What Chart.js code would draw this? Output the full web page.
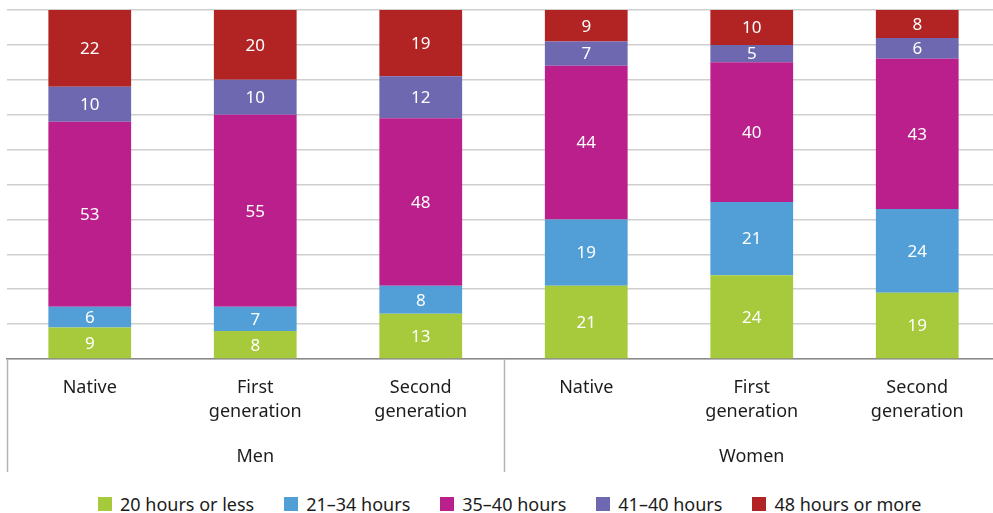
<!DOCTYPE html>
<html>
<head>
<meta charset="utf-8">
<script src="https://cdn.jsdelivr.net/npm/chart.js@4.4.0/dist/chart.umd.min.js"></script>
<style>
  html, body { margin: 0; padding: 0; background: #fff; overflow: hidden; }
  #wrap { position: absolute; left: 0; top: 0; width: 1000px; height: 480px; }
  #legend {
    position: absolute; left: 98px; top: 492px; display: flex; align-items: center;
    font-family: "Noto Sans", "Open Sans", sans-serif; font-size: 18px; color: #1c1c1c; white-space: nowrap;
  }
  #legend .item { display: flex; align-items: center; margin-right: 30px; }
  #legend .box { width: 14px; height: 14px; margin-right: 8px; }
</style>
</head>
<body>
<div id="wrap"><canvas id="mainChart"></canvas></div>
<div id="legend"></div>
<script>
// --- Data ---
const subLabels = [['Native'], ['First', 'generation'], ['Second', 'generation'],
                   ['Native'], ['First', 'generation'], ['Second', 'generation']];
const groupLabels = ['', 'Men', '', '', 'Women', ''];
const seriesNames = ['20 hours or less', '21–34 hours', '35–40 hours', '41–40 hours', '48 hours or more'];
const h20orLess = [9, 8, 13, 21, 24, 19];
const h21to34 = [6, 7, 8, 19, 21, 24];
const h35to40 = [53, 55, 48, 44, 40, 43];
const h41to40 = [10, 10, 12, 7, 5, 6];
const h48orMore = [22, 20, 19, 9, 10, 8];
const seriesColors = ['#a6ca3c', '#519fd6', '#bb1f8b', '#6e68b0', '#b22424'];

const FONT = '"Noto Sans", "Open Sans", sans-serif';

// white value labels in the middle of each segment
const segmentLabels = {
  id: 'segmentLabels',
  afterDatasetsDraw(chart) {
    const ctx = chart.ctx;
    ctx.save();
    ctx.fillStyle = '#fff';
    ctx.font = '17px ' + FONT;
    ctx.textAlign = 'center';
    ctx.textBaseline = 'middle';
    chart.data.datasets.forEach((ds, i) => {
      chart.getDatasetMeta(i).data.forEach((bar, j) => {
        const mid = (bar.y + bar.base) / 2;
        ctx.fillText(String(ds.data[j]), bar.x, mid + 1);
      });
    });
    ctx.restore();
  }
};

// vertical separators between the groups under the axis
const groupLines = {
  id: 'groupLines',
  afterDraw(chart) {
    const x = chart.scales.x;
    const ctx = chart.ctx;
    const top = chart.chartArea.bottom;
    const bottom = chart.scales.group.bottom - 8;
    const step = (x.right - x.left) / subLabels.length;
    ctx.save();
    ctx.strokeStyle = '#b4b4b4';
    ctx.lineWidth = 1.5;
    [x.left, x.left + step * 3].forEach(px => {
      ctx.beginPath();
      ctx.moveTo(Math.round(px) + 0.5, top);
      ctx.lineTo(Math.round(px) + 0.5, bottom);
      ctx.stroke();
    });
    ctx.restore();
  }
};

const datasets = [h20orLess, h21to34, h35to40, h41to40, h48orMore].map((d, i) => ({
  label: seriesNames[i],
  data: d,
  backgroundColor: seriesColors[i],
  borderWidth: 0,
  categoryPercentage: 1,
  barPercentage: 0.5
}));

// legend as html
const legendEl = document.getElementById('legend');
seriesNames.forEach((name, i) => {
  const item = document.createElement('div');
  item.className = 'item';
  const box = document.createElement('span');
  box.className = 'box';
  box.style.background = seriesColors[i];
  const txt = document.createElement('span');
  txt.textContent = name;
  item.appendChild(box);
  item.appendChild(txt);
  legendEl.appendChild(item);
});

new Chart(document.getElementById('mainChart'), {
  type: 'bar',
  data: { labels: subLabels, datasets },
  plugins: [segmentLabels, groupLines],
  options: {
    responsive: true,
    maintainAspectRatio: false,
    animation: false,
    layout: { padding: { left: 7, top: 10, right: 0, bottom: 0 } },
    plugins: {
      tooltip: { enabled: false },
      legend: { display: false }
    },
    scales: {
      x: {
        stacked: true,
        grid: { display: false },
        border: { display: true, color: '#8a8a8a', width: 1.5 },
        ticks: { color: '#1c1c1c', font: { family: FONT, size: 18, lineHeight: 1.33 }, padding: 9, maxRotation: 0 },
        afterFit(s) { s.height = 79; }
      },
      group: {
        type: 'category',
        position: 'bottom',
        labels: groupLabels,
        grid: { display: false },
        border: { display: false },
        ticks: { color: '#1c1c1c', font: { family: FONT, size: 18 }, padding: 0, maxRotation: 0, autoSkip: false },
        afterFit(s) { s.height = 42; }
      },
      y: {
        stacked: true,
        min: 0,
        max: 100,
        ticks: { display: false, stepSize: 10 },
        border: { display: false },
        grid: { color: '#cfcfcf', lineWidth: 1.5, drawTicks: false }
      }
    }
  }
});
</script>
</body>
</html>
